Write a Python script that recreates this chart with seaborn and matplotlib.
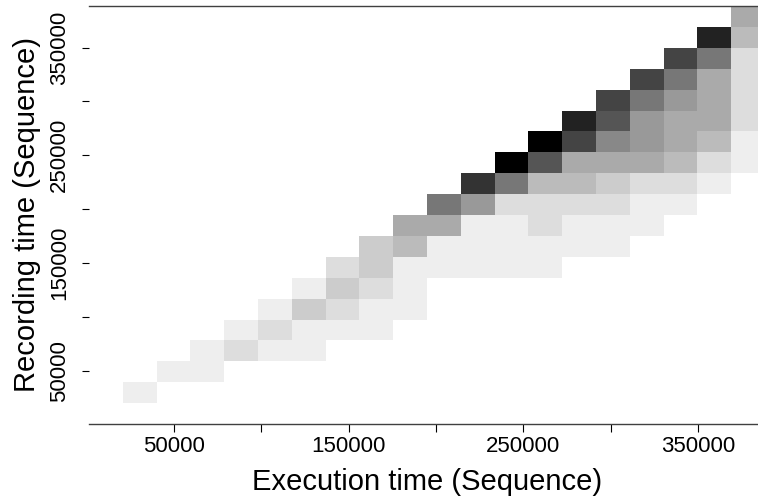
import numpy as np
import pandas as pd
import matplotlib
matplotlib.use("Agg")
import matplotlib.pyplot as plt
from matplotlib.colors import ListedColormap
import seaborn as sns

# Sequence ranges covered by the 20 x 20 grid of bins
exec_range = (1500, 388300)
rec_range = (600, 388600)
n_bins = 20

# Shade level of each occupied bin (1 = lightest grey, 15 = black).
# One list per recording-time band, bottom band first; each list starts at
# the execution-time bin index given in first_bin.
first_bin = [0, 1, 2, 3, 4, 5, 6, 7, 8, 9, 10, 11, 12, 13, 14, 15, 16, 17, 18, 19]
band_levels = [
    [],
    [1],
    [1, 1],
    [1, 2, 1, 1],
    [1, 2, 1, 1, 1],
    [1, 3, 2, 1, 1],
    [1, 3, 2, 1],
    [2, 3, 1, 1, 1, 1, 1],
    [3, 4, 1, 1, 1, 1, 1, 1],
    [5, 5, 1, 1, 2, 1, 1, 1],
    [8, 6, 2, 2, 2, 2, 1, 1],
    [12, 8, 4, 4, 3, 2, 2, 1],
    [15, 10, 5, 5, 5, 4, 2, 1],
    [15, 11, 7, 6, 5, 4, 1],
    [13, 10, 6, 5, 5, 2],
    [11, 8, 6, 5, 2],
    [11, 8, 5, 2],
    [11, 8, 2],
    [13, 4],
    [5],
]

tick_values = [50000, 100000, 150000, 200000, 250000, 300000, 350000]
tick_labels = ["50000", "", "150000", "", "250000", "", "350000"]

x_label = "Execution time (Sequence)"
y_label = "Recording time (Sequence)"

sns.set_theme(style="white")
plt.rcParams["font.family"] = ["Liberation Sans", "DejaVu Sans"]

# one weighted point at the centre of every occupied bin
x_edges = np.linspace(exec_range[0], exec_range[1], n_bins + 1)
y_edges = np.linspace(rec_range[0], rec_range[1], n_bins + 1)
x_mid = (x_edges[:-1] + x_edges[1:]) / 2
y_mid = (y_edges[:-1] + y_edges[1:]) / 2

records = []
for band, (start, levels) in enumerate(zip(first_bin, band_levels)):
    for k, lev in enumerate(levels):
        records.append((x_mid[start + k], y_mid[band], lev))
df = pd.DataFrame(records, columns=["exec", "rec", "level"])

fig = plt.figure(figsize=(7.58, 4.97), dpi=100)
ax = fig.add_axes([89 / 758, 73 / 497, 676 / 758, 418 / 497])

sns.histplot(
    data=df, x="exec", y="rec", weights="level",
    bins=n_bins, binrange=(exec_range, rec_range),
    cbar=False, ax=ax,
)

# 16-step grey ramp from white to black
grays = ListedColormap([(1 - k / 15,) * 3 for k in range(16)])
mesh = ax.collections[0]
mesh.set_cmap(grays)
mesh.set_clim(-0.5, 15.5)
mesh.set_edgecolor("face")
mesh.set_linewidth(0)

ax.set_xlim(exec_range)
ax.set_ylim(rec_range)

for side in ("left", "right"):
    ax.spines[side].set_visible(False)
for side in ("top", "bottom"):
    ax.spines[side].set_visible(True)
    ax.spines[side].set_color("#404040")
    ax.spines[side].set_linewidth(1.0)

ax.set_xticks(tick_values, tick_labels)
ax.set_yticks(tick_values, tick_labels, rotation=90, va="center")
ax.tick_params(axis="x", bottom=True, direction="out", length=5.5, width=0.8,
               color="black", pad=3.5, labelsize=16, labelcolor="black")
ax.tick_params(axis="y", left=True, direction="out", length=5, width=0.8,
               color="black", pad=8.5, labelsize=16, labelcolor="black")

ax.set_xlabel(x_label, fontsize=21, color="black", va="center")
ax.set_ylabel(y_label, fontsize=21, color="black", va="center")
ax.xaxis.set_label_coords(0.5, -0.139)
ax.yaxis.set_label_coords(-0.091, 0.5)

fig.savefig("out.png", dpi=100)
